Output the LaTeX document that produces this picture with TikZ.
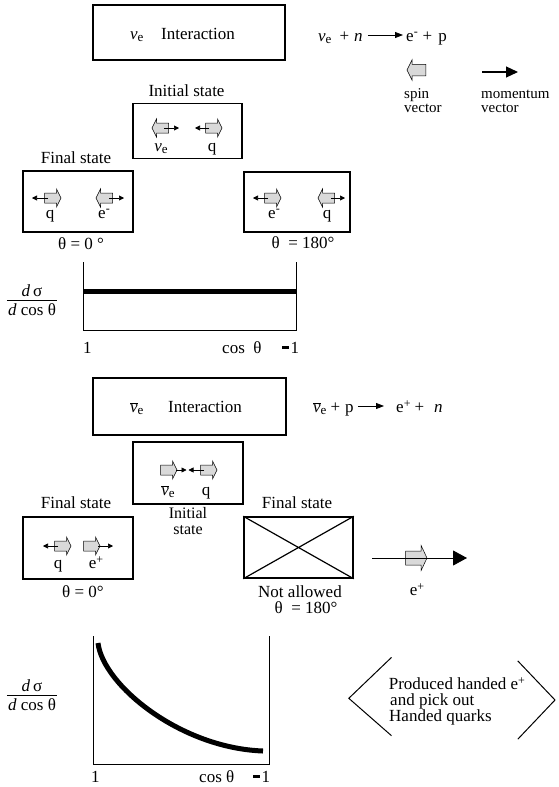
\documentclass[tikz,border=0pt]{standalone}
\usepackage{fontspec}
\setmainfont{Liberation Serif}
\usetikzlibrary{arrows.meta}
\definecolor{spingray}{HTML}{D9D9D9}
\newcommand{\NuE}{\textit{ν}\raisebox{-2.5pt}{\fontsize{13}{13}\selectfont e}}
\newcommand{\NuBarE}{$\overline{\hbox{\textit{ν}}}$\raisebox{-2.5pt}{\fontsize{13}{13}\selectfont e}}
\newcommand{\EMinus}{e\raisebox{5.5pt}{\fontsize{12}{12}\selectfont -}}
\newcommand{\EPlus}{e\raisebox{5pt}{\fontsize{12}{12}\selectfont +}}
\newcommand{\MinusOne}{\rule[4pt]{7pt}{2.6pt}\kern1.5pt 1}
\tikzset{
  box/.style={draw, line width=1.5pt, inner sep=0pt},
  lbl/.style={font=\fontsize{17}{19}\selectfont, inner sep=0pt},
  tightlbl/.style={font=\fontsize{16}{16}\selectfont, inner sep=0pt},
  smalllbl/.style={font=\fontsize{15}{15}\selectfont, inner sep=0pt},
  mom/.style={line width=0.6pt, -{Triangle[length=5pt,width=5pt]}},
  legendmom/.style={line width=1.2pt, -{Triangle[length=12pt,width=11pt]}},
  bigmom/.style={line width=0.8pt, -{Triangle[length=14pt,width=15pt]}},
  eqarrow/.style={line width=0.8pt, -{Triangle[length=8pt,width=6pt]}},
  axisline/.style={line width=1pt},
  thickline/.style={line width=5pt},
  spinfill/.style={draw, line width=0.5pt, fill=spingray},
  pics/spinR/.style={code={
    \draw[spinfill] (-7,-5) -- (5,-5) -- (5,-9) -- (9.5,0) -- (5,9) -- (5,5) -- (-7,5) -- cycle;
  }},
  pics/spinL/.style={code={
    \draw[spinfill] (7,-5) -- (-5,-5) -- (-5,-9) -- (-9.5,0) -- (-5,9) -- (-5,5) -- (7,5) -- cycle;
  }}
}
\begin{document}
\begin{tikzpicture}[x=1pt,y=-1pt]
\useasboundingbox (0,0) rectangle (558,787);

% ---------- top interaction ----------
\node[box, minimum width=192pt, minimum height=55pt] (topbox) at (189,32.5) {};
\node[lbl, anchor=base west] (toptA) at (130,39) {\NuE};
\node[lbl, anchor=base west] (toptB) at (161,39) {Interaction};
\node[lbl, anchor=base west] (eq1L) at (318,41) {\NuE\hspace{8pt}+\hspace{5pt}\textit{n}};
\node[lbl, anchor=base west] (eq1R) at (406,41) {\EMinus\hspace{5pt}+\hspace{6pt}p};
\draw[eqarrow] ([xshift=5pt,yshift=6pt]eq1L.base east) -- ([xshift=-3pt,yshift=6pt]eq1R.base west);

% legend
\pic[scale=1.15] at (417.9,70) {spinL};
\coordinate (lmA) at (482,72);
\coordinate (lmB) at (518,72);
\draw[legendmom] (lmA) -- (lmB);
\node[smalllbl, anchor=base west] (spinA) at (404,98) {spin};
\node[smalllbl, anchor=base west] (spinB) at (404,112) {vector};
\node[smalllbl, anchor=base west] (momA) at (481,98) {momentum};
\node[smalllbl, anchor=base west] (momB) at (481,112) {vector};

% initial state (top)
\node[lbl, anchor=base] (init1lbl) at (186.5,96) {Initial state};
\node[box, minimum width=109pt, minimum height=55pt] (init1) at (187.5,131) {};
\pic at (161.5,128) {spinL}; \draw[mom] (164,128) -- (179,128);
\pic at (212.5,128) {spinR}; \draw[mom] (209,128) -- (195,128);
\node[lbl, anchor=base] (init1a) at (161,151) {\NuE};
\node[lbl, anchor=base] (init1b) at (212,151) {q};

% final state left (top)
\node[lbl, anchor=base] (fin1lbl) at (76,163) {Final state};
\node[box, minimum width=110pt, minimum height=61pt] (fin1) at (78,201.5) {};
\pic at (51.5,198) {spinR}; \draw[mom] (48,198) -- (32,198);
\pic at (105.5,198) {spinL}; \draw[mom] (109,198) -- (124,198);
\node[lbl, anchor=base] (fin1a) at (50,218) {q};
\node[lbl, anchor=base] (fin1b) at (104,218) {\EMinus};
\node[lbl, anchor=base] (th1) at (81,249) {θ = 0 °};

% final state right (top)
\node[box, minimum width=106pt, minimum height=60pt] (fin2) at (297,202) {};
\pic at (271.5,198) {spinR}; \draw[mom] (268,198) -- (253,198);
\pic at (327.5,198) {spinL}; \draw[mom] (331,198) -- (345,198);
\node[lbl, anchor=base] (fin2a) at (274,218) {\EMinus};
\node[lbl, anchor=base] (fin2b) at (327,218) {q};
\node[lbl, anchor=base] (th2) at (303,248) {θ \ = 180°};

% plot 1
\draw[axisline] (83,262) -- (83,330) -- (296,330) -- (296,262);
\draw[thickline] (83,291) -- (296,291);
\node[lbl, anchor=base] (f1n) at (32,296) {\textit{d}\,σ};
\node[lbl, anchor=base] (f1d) at (32,315) {\textit{d} cos θ};
\draw[line width=0.8pt] ([xshift=-1pt,yshift=2.5pt]f1d.north west) -- ([xshift=1pt,yshift=2.5pt]f1d.north east);
\node[lbl, anchor=base west] (x1a) at (83,353) {1};
\node[lbl, anchor=base west] (x1b) at (222,353) {cos \ θ};
\node[lbl, anchor=base west] (x1c) at (282,353) {\MinusOne};

% ---------- bottom interaction ----------
\node[box, minimum width=193pt, minimum height=57pt] (botbox) at (189.5,406.5) {};
\node[lbl, anchor=base west] (botA) at (130,412) {\NuBarE};
\node[lbl, anchor=base west] (botB) at (168,412) {Interaction};
\node[lbl, anchor=base west] (eq2L) at (313,412) {\NuBarE\hspace{4pt}+\hspace{5pt}p};
\node[lbl, anchor=base west] (eq2R) at (396,412) {\EPlus\hspace{4pt}+\hspace{10pt}\textit{n}};
\draw[eqarrow] ([xshift=4pt,yshift=6pt]eq2L.base east) -- ([xshift=-12pt,yshift=6pt]eq2R.base west);

% initial state (bottom)
\node[box, minimum width=110pt, minimum height=62pt] (init2) at (188,473) {};
\pic at (167.5,470) {spinR}; \draw[mom] (176,470) -- (186.5,470);
\pic at (207.5,470) {spinR}; \draw[mom] (204,470) -- (188.5,470);
\node[lbl, anchor=base] (init2a) at (168,495) {\NuBarE};
\node[lbl, anchor=base] (init2b) at (206,495) {q};
\node[tightlbl, anchor=base] (init2c) at (188,518) {Initial};
\node[tightlbl, anchor=base] (init2d) at (188,534) {state};

% final state left (bottom)
\node[lbl, anchor=base] (fin3lbl) at (76,508) {Final state};
\node[box, minimum width=110pt, minimum height=62pt] (fin3) at (78,548) {};
\pic at (61.5,546) {spinR}; \draw[mom] (58,546) -- (43,546);
\pic at (90.5,546) {spinR}; \draw[mom] (98,546) -- (113,546);
\node[lbl, anchor=base] (fin3a) at (58,568) {q};
\node[lbl, anchor=base] (fin3b) at (96,568) {\EPlus};
\node[lbl, anchor=base] (th3) at (83,597) {θ = 0°};

% crossed final state
\node[lbl, anchor=base] (fin4lbl) at (297,508) {Final state};
\node[box, minimum width=109pt, minimum height=61pt] (fin4) at (298.5,547.5) {};
\draw[line width=1.2pt] (fin4.north west) -- (fin4.south east) (fin4.south west) -- (fin4.north east);
\node[lbl, anchor=base] (na) at (300,597) {Not allowed};
\node[lbl, anchor=base] (th4) at (306,613) {θ \ = 180°};

% e+ arrow
\coordinate (epA) at (372,558);
\coordinate (epB) at (467,558);
\pic[xscale=1.3,yscale=1.4] at (414.6,558) {spinR};
\draw[bigmom] (epA) -- (epB);
\node[lbl, anchor=base] (eplbl) at (417,595) {\EPlus};

% plot 2
\draw[axisline] (93,636) -- (93,764) -- (269,764) -- (269,636);
\draw[thickline] (98,643) .. controls (103,685) and (180,748) .. (263,751);
\node[lbl, anchor=base] (f2n) at (32,691) {\textit{d}\,σ};
\node[lbl, anchor=base] (f2d) at (32,710) {\textit{d} cos θ};
\draw[line width=0.8pt] ([xshift=-1pt,yshift=2.5pt]f2d.north west) -- ([xshift=1pt,yshift=2.5pt]f2d.north east);
\node[lbl, anchor=base west] (x2a) at (91,782) {1};
\node[lbl, anchor=base west] (x2b) at (199,782) {cos θ};
\node[lbl, anchor=base west] (x2c) at (253,782) {\MinusOne};

% comment shape
\draw[line width=1pt] (391.5,657.4) -- (348.8,698.3) -- (391.5,735.7);
\draw[line width=1pt] (517.8,660.9) -- (555,700) -- (517.8,739.2);
\node[lbl, anchor=base west] (c1) at (388.6,689.4) {Produced handed \EPlus};
\node[lbl, anchor=base west] (c2) at (390,705.4) {and pick out};
\node[lbl, anchor=base west] (c3) at (389,721.4) {Handed quarks};
\end{tikzpicture}
\end{document}
